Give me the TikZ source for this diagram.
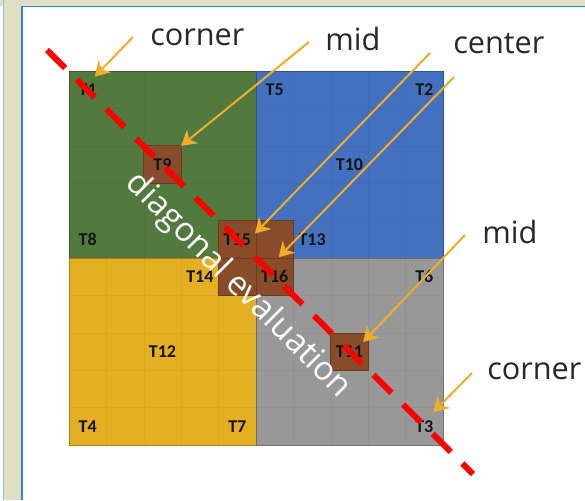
\documentclass[tikz,border=0pt]{standalone}
\usepackage{fontspec}
\setmainfont{Open Sans}
\newfontfamily\lblfont{Carlito}
\usetikzlibrary{arrows.meta}
\definecolor{beige}{RGB}{222,223,197}
\definecolor{frameblue}{RGB}{46,134,209}
\definecolor{qgreen}{RGB}{82,122,62}
\definecolor{qblue}{RGB}{68,113,191}
\definecolor{qyellow}{RGB}{228,175,34}
\definecolor{qgray}{RGB}{152,152,152}
\definecolor{tbrown}{RGB}{137,76,42}
\definecolor{tbrownline}{RGB}{105,60,35}
\definecolor{arrorange}{RGB}{240,174,40}
\definecolor{labeldark}{RGB}{20,20,20}
\definecolor{worddark}{RGB}{40,40,40}
\tikzset{
  quad/.style={fill=#1, draw=#1!75!black, line width=0.5pt},
  tilesq/.style={draw=tbrownline, line width=0.6pt, fill=tbrown, minimum size=28.05pt, inner sep=0pt, outer sep=0pt},
  tlabel/.style={font=\lblfont\bfseries\fontsize{13.5}{15}\selectfont, text=labeldark, inner sep=0pt},
  word/.style={font=\fontsize{23}{26}\selectfont, text=worddark, inner sep=0pt, anchor=base west},
  arr/.style={draw=arrorange, line width=1.5pt, -{Stealth[length=11pt,width=13pt,inset=3.5pt]}},
  diagline/.style={draw=red, line width=4.5pt, dash pattern=on 19.1pt off 12.3pt},
  faint/.style={draw=black, opacity=0.035, line width=0.4pt}
}
\begin{document}
\begin{tikzpicture}[x=0.75pt,y=-0.75pt]
\useasboundingbox (0,0) rectangle (585,500);
% window frame
\fill[white] (0,0) rectangle (585,500);
\fill[beige] (0,0) rectangle (585,6);
\fill[beige] (3,0) rectangle (22,500);
\draw[frameblue!55, line width=0.6pt] (3,0) -- (3,500);
\draw[frameblue, line width=1.2pt] (22,500) -- (22,6.6) -- (585,6.6);
% quadrants
\path[quad=qgreen]  (69,71)  rectangle (256,258.2);
\path[quad=qblue]   (256,71) rectangle (443,258.2);
\path[quad=qyellow] (69,258.2) rectangle (256,445);
\path[quad=qgray]   (256,258.2) rectangle (443,445);
% faint tile grid
\foreach \i in {1,...,9} {
  \draw[faint] ({69+\i*37.4},71) -- ({69+\i*37.4},445);
  \draw[faint] (69,{71+\i*37.4}) -- (443,{71+\i*37.4});
}
% brown tiles
\node[tilesq] (sq9)  at (162.5,164.5) {};
\node[tilesq] (sq11) at (349.5,351.7) {};
\node[tilesq] (sq15) at (237.3,239.5) {};
\node[tilesq] (sqb)  at (274.7,239.5) {};
\node[tilesq] (sqc)  at (237.3,276.9) {};
\node[tilesq] (sq16) at (274.7,276.9) {};
% tile labels
\node[tlabel] (t1)  at (87.7,89.7)  {T1};
\node[tlabel] (t5)  at (274.7,89.7) {T5};
\node[tlabel] (t2)  at (424.3,89.7) {T2};
\node[tlabel] (t9)  at (162.5,164.5) {T9};
\node[tlabel] (t10) at (349.5,164.5) {T10};
\node[tlabel] (t8)  at (87.7,239.5) {T8};
\node[tlabel] (t15) at (237.3,239.5) {T15};
\node[tlabel] (t13) at (312.1,239.5) {T13};
\node[tlabel] (t14) at (199.9,276.9) {T14};
\node[tlabel] (t16) at (274.7,276.9) {T16};
\node[tlabel] (t6)  at (424.3,276.9) {T6};
\node[tlabel] (t12) at (162.5,351.7) {T12};
\node[tlabel] (t11) at (349.5,351.7) {T11};
\node[tlabel] (t4)  at (87.7,426.3) {T4};
\node[tlabel] (t7)  at (237.3,426.3) {T7};
\node[tlabel] (t3)  at (424.3,426.3) {T3};
% diagonal
\coordinate (dstart) at (47,50);
\coordinate (dend) at (473,474);
\draw[diagline] (dstart) -- (dend);
\node[font=\fontsize{25}{28}\selectfont, text=white, rotate=-45, inner sep=0pt] (diagtext) at (238,286) {diagonal evaluation};
% words
\node[word] (wcorner1) at (150,45)  {corner};
\node[word] (wmid1)    at (325,50)  {mid};
\node[word] (wcenter)  at (453,53)  {center};
\node[word] (wmid2)    at (482,243) {mid};
\node[word] (wcorner2) at (487,379) {corner};
% arrows
\coordinate (a1) at (133,37);
\coordinate (a2) at (309,42);
\coordinate (a3) at (430,53);
\coordinate (a4) at (454,77);
\coordinate (a5) at (465,235);
\coordinate (a6) at (472,373);
\draw[arr] (a1) -- ([shift={(7,-13)}]t1.center);
\draw[arr] (a2) -- (sq9.north east);
\draw[arr] (a3) -- ([shift={(-1,-6)}]sq15.east);
\draw[arr] (a4) -- ([shift={(4,-1)}]sqb.south);
\draw[arr] (a5) -- ([shift={(-5,9)}]sq11.north east);
\draw[arr] (a6) -- ([shift={(9,-14)}]t3.center);
\end{tikzpicture}
\end{document}
